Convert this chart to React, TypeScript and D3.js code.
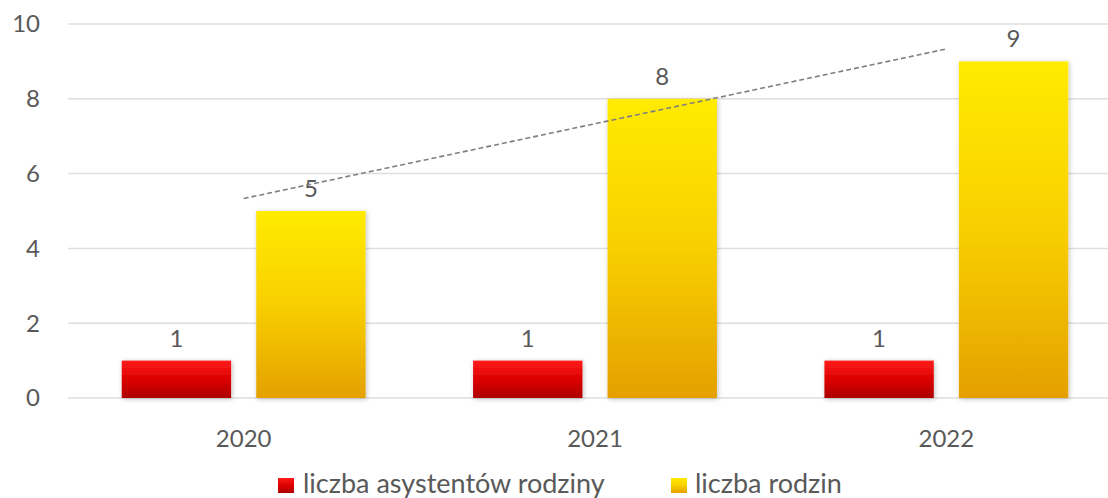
import React from 'react';
import * as d3 from 'd3';

const years = ['2020', '2021', '2022'];
const seriesNames = ['liczba asystentów rodziny', 'liczba rodzin'];
const asystenci = [1, 1, 1];
const rodziny = [5, 8, 9];
const yTicks = [0, 2, 4, 6, 8, 10];

const W = 1108;
const H = 498;
const margin = { top: 24, right: -14, bottom: 100, left: 68 };
const font = 'Lato, "Open Sans", sans-serif';
const textColor = '#595959';

export default function App() {
  const innerW = W - margin.left - margin.right;
  const innerH = H - margin.top - margin.bottom;

  const x = d3.scaleBand<string>().domain(years).range([0, innerW]).paddingInner(0).paddingOuter(0);
  const xs = d3
    .scaleBand<string>()
    .domain(seriesNames)
    .range([53.75, x.bandwidth() - 53.75])
    .paddingInner(0.187);
  const y = d3.scaleLinear().domain([0, 10]).range([innerH, 0]);

  const series = [asystenci, rodziny];
  const fills = ['url(#gRed)', 'url(#gYellow)'];

  // linear trend of liczba rodzin
  const idx = rodziny.map((_, i) => i);
  const mx = d3.mean(idx)!;
  const my = d3.mean(rodziny)!;
  const slope =
    d3.sum(idx, i => (i - mx) * (rodziny[i] - my)) / d3.sum(idx, i => (i - mx) * (i - mx));
  const trend = idx.map(i => my + slope * (i - mx));
  const line = d3
    .line<number>()
    .x((_, i) => x(years[i])! + x.bandwidth() / 2)
    .y(d => y(d));

  const legend = [
    { rx: 278, tx: 303 },
    { rx: 671, tx: 695 },
  ];

  return (
    <svg width={W} height={H} style={{ position: 'absolute', left: 0, top: 0, background: '#fff' }}>
      <defs>
        <linearGradient id="gRed" x1="0" y1="0" x2="0" y2="1">
          <stop offset="0%" stopColor="#ff1c1c" />
          <stop offset="50%" stopColor="#dc0000" />
          <stop offset="100%" stopColor="#ad0000" />
        </linearGradient>
        <linearGradient id="gYellow" x1="0" y1="0" x2="0" y2="1">
          <stop offset="0%" stopColor="#ffeb00" />
          <stop offset="50%" stopColor="#f8cf00" />
          <stop offset="100%" stopColor="#e4a000" />
        </linearGradient>
        <filter id="shadow" x="-20%" y="-20%" width="140%" height="140%">
          <feDropShadow dx="1" dy="1" stdDeviation="2.5" floodColor="#000" floodOpacity="0.25" />
        </filter>
      </defs>
      <g transform={`translate(${margin.left},${margin.top})`}>
        {yTicks.map(t => (
          <g key={t}>
            <line x1={0} x2={innerW} y1={y(t)} y2={y(t)} stroke="#dedede" strokeWidth={1.5} />
            <text
              x={-28}
              y={y(t)}
              dy="0.35em"
              textAnchor="end"
              fontFamily={font}
              fontSize={24}
              fill={textColor}
            >
              {t}
            </text>
          </g>
        ))}
        {years.map((yr, i) => (
          <g key={yr} transform={`translate(${x(yr)},0)`}>
            {series.map((s, j) => (
              <g key={j}>
                <rect
                  x={xs(seriesNames[j])}
                  y={y(s[i])}
                  width={xs.bandwidth()}
                  height={innerH - y(s[i])}
                  fill={fills[j]}
                  filter="url(#shadow)"
                />
                <text
                  x={xs(seriesNames[j])! + xs.bandwidth() / 2}
                  y={y(s[i]) - 14}
                  textAnchor="middle"
                  fontFamily={font}
                  fontSize={24}
                  fill={textColor}
                >
                  {s[i]}
                </text>
              </g>
            ))}
            <text
              x={x.bandwidth() / 2}
              y={innerH + 49}
              textAnchor="middle"
              fontFamily={font}
              fontSize={24}
              fill={textColor}
            >
              {yr}
            </text>
          </g>
        ))}
        <path d={line(trend) ?? ''} fill="none" stroke="#7f7f7f" strokeWidth={1.6} strokeDasharray="5,3" />
      </g>
      {seriesNames.map((name, j) => (
        <g key={name}>
          <rect x={legend[j].rx} y={478} width={16} height={15} fill={fills[j]} />
          <text x={legend[j].tx} y={493} fontFamily={font} fontSize={27} fill={textColor}>
            {name}
          </text>
        </g>
      ))}
    </svg>
  );
}
